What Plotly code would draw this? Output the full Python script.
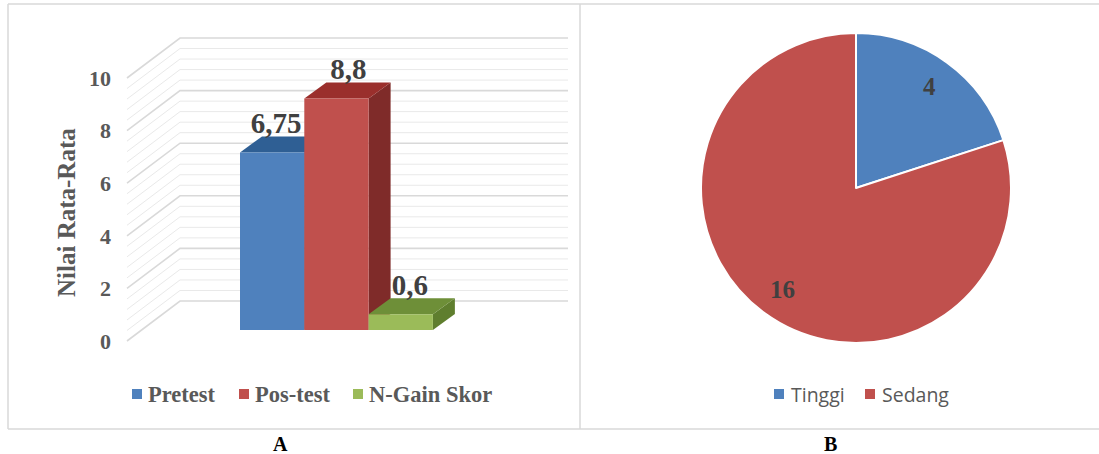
import math
import plotly.graph_objects as go

# Panel A: mean scores
series = ["Pretest", "Pos-test", "N-Gain Skor"]
scores = [6.75, 8.8, 0.6]
score_labels = ["6,75", "8,8", "0,6"]
front_colors = ["#4F81BD", "#C0504D", "#9BBB59"]
top_colors = ["#2F5F94", "#9A2F2C", "#6E8F38"]
side_colors = ["#2A5482", "#7F2B29", "#5F7E2E"]
y_ticks = [0, 2, 4, 6, 8, 10]
y_title = "Nilai Rata-Rata"

# Panel B: category counts
levels = ["Tinggi", "Sedang"]
counts = [4, 16]
level_colors = ["#4F81BD", "#C0504D"]

W, H = 1099, 454
PX_PER_UNIT = 26.3
WALL_ZERO_PX = 341          # y pixel of 0 on the front edge of the wall
BAR_ZERO_PX = 330           # y pixel of the bar base
BAR_LEFT, BAR_W = 240, 64.3
DX, DY = 22, 16 / PX_PER_UNIT   # oblique depth of a bar
WALL_X = (127, 180, 568)
WALL_RISE = 40 / PX_PER_UNIT
LABEL_NUDGE = (4, 12, 9)    # horizontal shift of the value labels, px
KEY_Y = 394                 # y pixel of the legend rows
KEY_SIZE = 10
KEYS_A = (132, 239, 353)    # left edge of each swatch, px
TEXTS_A = (147, 254, 368)
KEYS_B = (774, 865)
TEXTS_B = (790, 881)
SERIF = "Liberation Serif"
GREY = "#595959"


def v_range(zero_px):
    return [(zero_px - H) / PX_PER_UNIT, zero_px / PX_PER_UNIT]


fig = go.Figure()

# Wall and floor gridlines, every 0.4 with the even values stronger
for i in range(26):
    v = i * 0.4
    major = i % 5 == 0
    fig.add_trace(go.Scatter(
        x=list(WALL_X), y=[v, v + WALL_RISE, v + WALL_RISE],
        mode="lines", yaxis="y", showlegend=False, hoverinfo="skip",
        line=dict(color="#D9D9D9" if major else "#E9E9E9", width=1.6 if major else 1),
    ))

# Oblique top and side faces of each bar, back to front
for i, v in enumerate(scores):
    x0 = BAR_LEFT + i * BAR_W
    x1 = x0 + BAR_W
    fig.add_trace(go.Scatter(
        x=[x1, x1 + DX, x1 + DX, x1, x1], y=[0, DY, v + DY, v, 0],
        mode="lines", fill="toself", fillcolor=side_colors[i], line=dict(width=0),
        yaxis="y2", showlegend=False, hoverinfo="skip",
    ))
    fig.add_trace(go.Scatter(
        x=[x0, x1, x1 + DX, x0 + DX, x0], y=[v, v, v + DY, v + DY, v],
        mode="lines", fill="toself", fillcolor=top_colors[i], line=dict(width=0),
        yaxis="y2", showlegend=False, hoverinfo="skip",
    ))

# Front faces of the bars
for i, (name, v) in enumerate(zip(series, scores)):
    fig.add_trace(go.Bar(
        x=[BAR_LEFT + (i + 0.5) * BAR_W], y=[v], width=BAR_W, name=name,
        marker=dict(color=front_colors[i], line=dict(width=0)),
        yaxis="y3", showlegend=False,
    ))

# Value labels sit just above the top face
fig.add_trace(go.Scatter(
    x=[BAR_LEFT + (i + 0.5) * BAR_W + LABEL_NUDGE[i] for i in range(3)],
    y=[v + DY - 0.15 for v in scores],
    text=score_labels, mode="text", textposition="top center",
    textfont=dict(family=SERIF, size=29, color="#404040", weight="bold"),
    yaxis="y3", showlegend=False, hoverinfo="skip", cliponaxis=False,
))

PIE_CX, PIE_CY, PIE_R = 856, 188, 155
fig.add_trace(go.Pie(
    labels=levels, values=counts, sort=False, direction="clockwise", rotation=0,
    marker=dict(colors=level_colors, line=dict(color="white", width=2)),
    textinfo="none", hoverinfo="label+value", showlegend=False,
    domain=dict(x=[(PIE_CX - PIE_R) / W, (PIE_CX + PIE_R) / W],
                y=[1 - (PIE_CY + PIE_R) / H, 1 - (PIE_CY - PIE_R) / H]),
))

# Slice labels on the bisector of each slice, at 81% of the radius
total = sum(counts)
pie_labels = []
start = 0
for c in counts:
    mid = (start + c / 2) / total * 2 * math.pi
    start += c
    pie_labels.append(dict(
        x=(PIE_CX + 0.81 * PIE_R * math.sin(mid)) / W,
        y=1 - (PIE_CY - 0.81 * PIE_R * math.cos(mid)) / H,
        xref="paper", yref="paper", xanchor="center", yanchor="middle",
        text=f"<b>{c}</b>", showarrow=False,
        font=dict(family=SERIF, size=25, color="#404040"),
    ))

panel_letters = [
    dict(x=x / W, y=1 - 444 / H, xref="paper", yref="paper", xanchor="center", yanchor="middle",
         text=f"<b>{t}</b>", showarrow=False, font=dict(family=SERIF, size=20, color="black"))
    for x, t in ((280, "A"), (830, "B"))
]
axis_title = dict(
    x=66 / W, y=1 - 213 / H, xref="paper", yref="paper", xanchor="center", yanchor="middle",
    text=f"<b>{y_title}</b>", textangle=-90, showarrow=False,
    font=dict(family=SERIF, size=25, color=GREY),
)

frame = dict(type="line", xref="paper", yref="paper", line=dict(color="#D9D9D9", width=1.5))
shapes = [
    {**frame, "x0": 8 / W, "x1": 8 / W, "y0": 1 - 4 / H, "y1": 1 - 429 / H},
    {**frame, "x0": 580 / W, "x1": 580 / W, "y0": 1 - 4 / H, "y1": 1 - 429 / H},
    {**frame, "x0": 8 / W, "x1": 1, "y0": 1 - 4 / H, "y1": 1 - 4 / H},
    {**frame, "x0": 8 / W, "x1": 1, "y0": 1 - 429 / H, "y1": 1 - 429 / H},
]

# Legend rows beneath each panel: a small swatch followed by its name
legend_texts = []
for names, colors, keys, texts, font in (
    (series, front_colors, KEYS_A, TEXTS_A,
     dict(family=SERIF, size=22.5, color=GREY, weight="bold")),
    (levels, level_colors, KEYS_B, TEXTS_B,
     dict(family="Open Sans", size=19.5, color=GREY)),
):
    for name, color, kx, tx in zip(names, colors, keys, texts):
        shapes.append(dict(
            type="rect", xref="paper", yref="paper", line=dict(width=0), fillcolor=color,
            x0=kx / W, x1=(kx + KEY_SIZE) / W,
            y0=1 - (KEY_Y + KEY_SIZE / 2) / H, y1=1 - (KEY_Y - KEY_SIZE / 2) / H,
        ))
        legend_texts.append(dict(
            x=tx / W, y=1 - KEY_Y / H, xref="paper", yref="paper",
            xanchor="left", yanchor="middle", xshift=-1, text=name, showarrow=False, font=font,
        ))

fig.update_layout(
    width=W, height=H, margin=dict(l=0, r=0, t=0, b=0),
    paper_bgcolor="white", plot_bgcolor="rgba(0,0,0,0)", showlegend=False,
    barmode="overlay", shapes=shapes,
    annotations=pie_labels + panel_letters + [axis_title] + legend_texts,
    xaxis=dict(range=[0, W], domain=[0, 1], visible=False, fixedrange=True),
    yaxis=dict(
        range=v_range(WALL_ZERO_PX), domain=[0, 1], anchor="free", position=111 / W,
        tickmode="array", tickvals=y_ticks, ticks="", showgrid=False, zeroline=False,
        showline=False, tickfont=dict(family=SERIF, size=22, color=GREY, weight="bold"),
    ),
    yaxis2=dict(range=v_range(BAR_ZERO_PX), overlaying="y", visible=False),
    yaxis3=dict(range=v_range(BAR_ZERO_PX), overlaying="y", visible=False),
)

fig.write_html("out.html")
